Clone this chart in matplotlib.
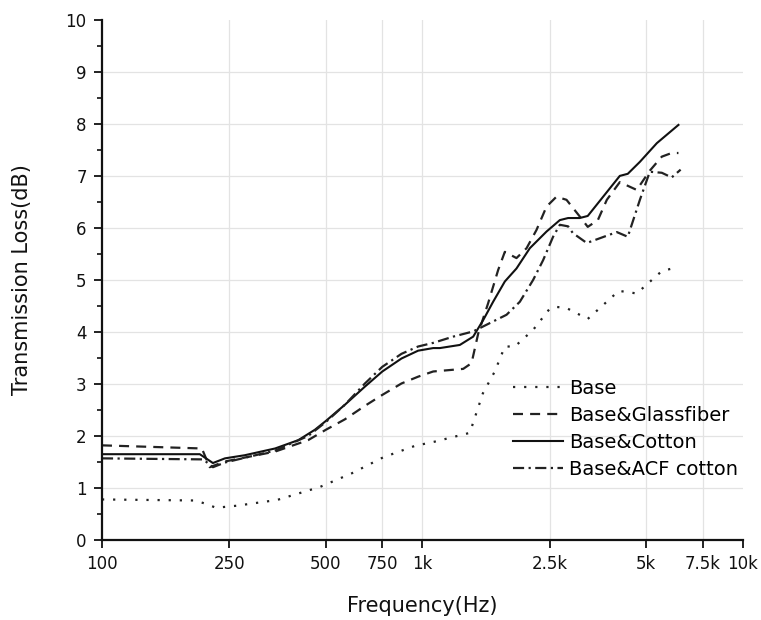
import matplotlib
matplotlib.use("Agg")
import matplotlib.pyplot as plt
from matplotlib.ticker import FixedLocator, MultipleLocator

# values (frequency in Hz, transmission loss in dB)
baseF = [100, 195, 210, 227, 264, 352, 479, 601, 755, 948, 1091, 1406, 1545, 1683, 1809, 1944,
         2217, 2500, 2630, 2818, 3283, 4103, 4668, 5590, 6300]
baseTL = [0.78, 0.76, 0.70, 0.62, 0.66, 0.77, 1.02, 1.28, 1.59, 1.81, 1.89, 2.06, 2.82, 3.24, 3.72, 3.72,
          4.04, 4.45, 4.48, 4.46, 4.25, 4.79, 4.74, 5.17, 5.25]

glassF = [100, 205, 217, 242, 347, 440, 500, 573, 662, 750, 861, 970, 1081, 1341, 1424, 1494,
          1604, 1724, 1809, 1967, 2115, 2271, 2441, 2622, 2818, 3099, 3283, 3530, 3765, 4133,
          4668, 5128, 5590, 6000, 6300]
glassTL = [1.82, 1.76, 1.40, 1.51, 1.70, 1.92, 2.12, 2.32, 2.58, 2.79, 3.01, 3.14, 3.24, 3.29, 3.40, 3.97,
           4.55, 5.19, 5.54, 5.42, 5.61, 5.96, 6.41, 6.60, 6.54, 6.22, 6.02, 6.15, 6.54, 6.88,
           6.73, 7.10, 7.37, 7.44, 7.44]

cottonF = [100, 202, 222, 242, 279, 347, 410, 462, 500, 573, 662, 750, 861, 970, 1081, 1134,
           1309, 1441, 1549, 1663, 1809, 1967, 2165, 2441, 2686, 2851, 3099, 3283, 4133, 4377,
           4775, 5395, 6300]
cottonTL = [1.65, 1.65, 1.48, 1.57, 1.63, 1.76, 1.92, 2.12, 2.29, 2.60, 2.95, 3.24, 3.49, 3.64, 3.69, 3.69,
            3.75, 3.91, 4.23, 4.58, 4.97, 5.22, 5.61, 5.93, 6.15, 6.19, 6.19, 6.23, 7.00, 7.04,
            7.27, 7.63, 7.98]

acfF = [100, 207, 222, 242, 347, 440, 500, 573, 662, 750, 861, 970, 1081, 1248, 1441, 1624,
        1831, 2015, 2217, 2382, 2559, 2686, 2851, 2950, 3260, 4045, 4377, 4775, 5128, 5590,
        6000, 6400]
acfTL = [1.57, 1.55, 1.40, 1.49, 1.72, 2.00, 2.27, 2.60, 3.01, 3.33, 3.58, 3.72, 3.79, 3.91, 4.01, 4.17,
         4.33, 4.58, 5.00, 5.38, 5.83, 6.06, 6.03, 5.90, 5.71, 5.92, 5.83, 6.54, 7.08, 7.06,
         6.97, 7.12]

xticks = [100, 250, 500, 750, 1000, 2500, 5000, 7500, 10000]
xlabels = ["100", "250", "500", "750", "1k", "2.5k", "5k", "7.5k", "10k"]

plt.rcParams['font.family'] = ['DejaVu Sans']

fig = plt.figure(figsize=(7.61, 6.2), dpi=100)
ax = fig.add_axes([0.134, 0.129, 0.842, 0.839])

# light grid, drawn by hand so nothing appears on the top edge
for x in xticks[1:-1]:
    ax.axvline(x, color="#e3e3e3", lw=0.9, zorder=0)
for y in range(1, 10):
    ax.axhline(y, color="#e3e3e3", lw=0.9, zorder=0)

ax.plot(baseF, baseTL, color="#222222", lw=1.6, linestyle=(0, (1, 4)), label="Base")
ax.plot(glassF, glassTL, color="#222222", lw=1.6, linestyle=(0, (4.5, 3.2)), label="Base&Glassfiber")
ax.plot(cottonF, cottonTL, color="#111111", lw=1.5, label="Base&Cotton")
ax.plot(acfF, acfTL, color="#222222", lw=1.6, linestyle=(0, (5, 2, 1, 2)), label="Base&ACF cotton")

ax.set_xscale("log")
ax.set_xlim(100, 10000)
ax.set_ylim(0, 10)
ax.xaxis.set_major_locator(FixedLocator(xticks))
ax.xaxis.set_minor_locator(FixedLocator([]))
ax.set_xticklabels(xlabels)
ax.yaxis.set_major_locator(MultipleLocator(1))
ax.yaxis.set_minor_locator(MultipleLocator(0.5))

for s in ["top", "right"]:
    ax.spines[s].set_visible(False)
for s in ["left", "bottom"]:
    ax.spines[s].set_linewidth(1.6)
    ax.spines[s].set_color("#111111")

ax.tick_params(which="major", direction="out", length=6, width=1.3, labelsize=12, pad=5, colors="#111111")
ax.tick_params(which="minor", direction="out", length=3.5, width=1.2, colors="#111111")

ax.set_xlabel("Frequency(Hz)", fontsize=15, labelpad=16, color="#111111")
ax.set_ylabel("Transmission Loss(dB)", fontsize=15, labelpad=24, color="#111111")

ax.legend(loc="upper left", bbox_to_anchor=(0.641, 0.31), frameon=False, fontsize=14,
          handlelength=2.6, handletextpad=0.3, labelspacing=0.42, borderpad=0, borderaxespad=0)

fig.savefig("out.png", dpi=100)
